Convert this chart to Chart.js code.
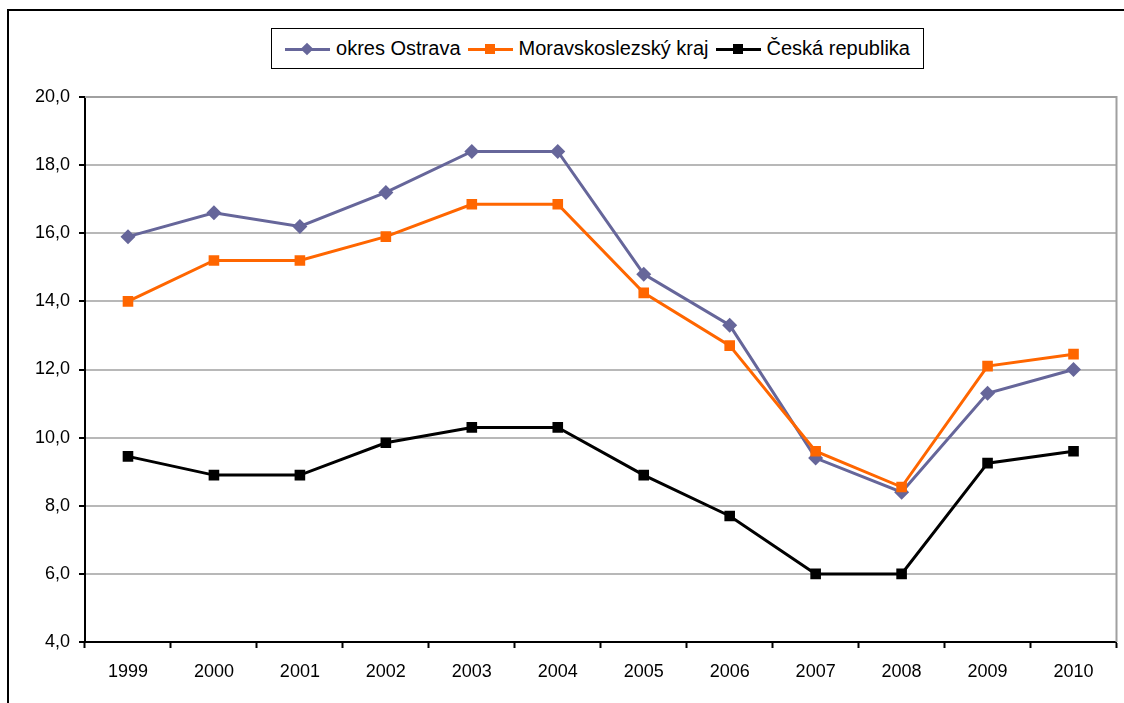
<!DOCTYPE html>
<html>
<head>
<meta charset="utf-8">
<script src="https://cdn.jsdelivr.net/npm/chart.js@4/dist/chart.umd.min.js"></script>
<style>
  html, body { margin: 0; padding: 0; background: #fff; }
  body { width: 1124px; height: 703px; position: relative; overflow: hidden; font-family: "Liberation Sans", Arial, sans-serif; }
  #frame { position: absolute; left: 7px; top: 9px; width: 1300px; height: 900px; border-left: 2px solid #000; border-top: 2px solid #000; }
  #wrap { position: absolute; left: 0; top: 0; width: 1124px; height: 703px; }
  #legend { position: absolute; left: 271px; top: 28px; width: 653px; height: 41px; border: 1px solid #000; box-sizing: border-box;
            display: flex; align-items: center; justify-content: center; gap: 7px; font-size: 20px; color: #000; background: #fff; }
  .item { display: flex; align-items: center; }
  .sym { position: relative; width: 45px; height: 12px; margin-right: 6px; }
  .sym .ln { position: absolute; left: 0; right: 0; top: 5px; height: 3px; }
  .sym .mk { position: absolute; left: 17px; top: 1px; width: 10px; height: 10px; }
  .sym .mk.dia { transform: rotate(45deg) scale(0.9); }
</style>
</head>
<body>
<div id="frame"></div>
<div id="wrap"><canvas id="chart1" width="1124" height="703"></canvas></div>
<div id="legend"></div>
<script>
var years = ['1999', '2000', '2001', '2002', '2003', '2004', '2005', '2006', '2007', '2008', '2009', '2010'];
var okresOstrava = [15.9, 16.6, 16.2, 17.2, 18.4, 18.4, 14.8, 13.3, 9.4, 8.4, 11.3, 12.0];
var moravskoslezsky = [14.0, 15.2, 15.2, 15.9, 16.85, 16.85, 14.25, 12.7, 9.6, 8.55, 12.1, 12.45];
var ceskaRepublika = [9.45, 8.9, 8.9, 9.85, 10.3, 10.3, 8.9, 7.7, 6.0, 6.0, 9.25, 9.6];
var seriesNames = ['okres Ostrava', 'Moravskoslezský kraj', 'Česká republika'];
var seriesColors = ['#66669a', '#ff6600', '#000000'];
var seriesMarkers = ['rectRot', 'rect', 'rect'];

var fontName = '"Liberation Sans", Arial, sans-serif';

// right + top border of the plot area (gray)
var plotFrame = {
    id: 'plotFrame',
    beforeDatasetsDraw: function (chart) {
        var a = chart.chartArea, c = chart.ctx;
        c.save();
        c.strokeStyle = '#a0a0a0';
        c.lineWidth = 2;
        c.beginPath();
        c.moveTo(a.left, a.top);
        c.lineTo(a.right, a.top);
        c.lineTo(a.right, a.bottom);
        c.stroke();
        c.restore();
    }
};

var allData = [okresOstrava, moravskoslezsky, ceskaRepublika];
var datasets = allData.map(function (d, i) {
    return {
        label: seriesNames[i],
        data: d,
        borderColor: seriesColors[i],
        backgroundColor: seriesColors[i],
        borderWidth: 3,
        pointStyle: seriesMarkers[i],
        pointRadius: i == 0 ? 7.5 : 7.5,
        pointBorderWidth: 0,
        tension: 0
    };
});
datasets.reverse(); // Ostrava on top

var chart1 = new Chart(document.getElementById('chart1'), {
    type: 'line',
    data: { labels: years, datasets: datasets },
    options: {
        responsive: false,
        animation: false,
        layout: { padding: { top: 97, right: 4, left: 0, bottom: 0 } },
        plugins: { legend: { display: false }, tooltip: { enabled: false } },
        scales: {
            x: {
                offset: true,
                grid: { offset: true, drawOnChartArea: false, tickLength: 6, tickColor: '#000', tickWidth: 2 },
                border: { color: '#000', width: 2 },
                ticks: { color: '#000', font: { family: fontName, size: 18 }, padding: 13, maxRotation: 0 },
                afterFit: function (s) { s.height = 61; }
            },
            y: {
                min: 4, max: 20,
                grid: { color: '#b8b8b8', lineWidth: 2, tickLength: 6, tickColor: '#000', tickWidth: 2 },
                border: { color: '#000', width: 2 },
                ticks: {
                    stepSize: 2, color: '#000', padding: 9,
                    font: { family: fontName, size: 18 },
                    callback: function (v) { return v.toFixed(1).replace('.', ','); }
                },
                afterFit: function (s) { s.width = 85; }
            }
        }
    },
    plugins: [plotFrame]
});

// legend in a box
var legendHTML = document.getElementById('legend');
seriesNames.forEach(function (name, i) {
    var item = document.createElement('div');
    item.className = 'item';
    var sym = document.createElement('span');
    sym.className = 'sym';
    var ln = document.createElement('span');
    ln.className = 'ln';
    ln.style.background = seriesColors[i];
    var mk = document.createElement('span');
    mk.className = 'mk' + (seriesMarkers[i] == 'rectRot' ? ' dia' : '');
    mk.style.background = seriesColors[i];
    sym.appendChild(ln);
    sym.appendChild(mk);
    var txt = document.createElement('span');
    txt.innerText = name;
    item.appendChild(sym);
    item.appendChild(txt);
    legendHTML.appendChild(item);
});
</script>
</body>
</html>
